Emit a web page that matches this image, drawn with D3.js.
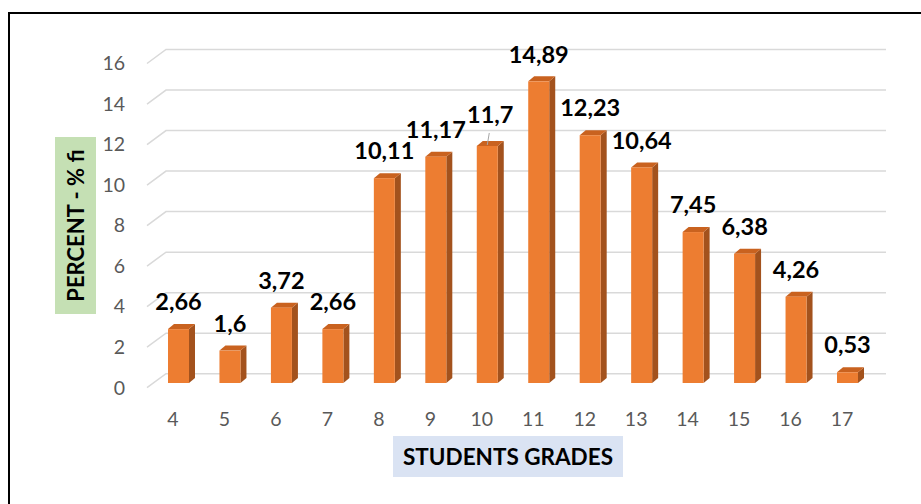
<!DOCTYPE html>
<html>
<head>
<meta charset="utf-8">
<script src="https://cdn.jsdelivr.net/npm/d3@7"></script>
<style>
  html, body { margin: 0; padding: 0; background: #fff; }
  svg { display: block; }
</style>
</head>
<body>
<svg id="chart" width="921" height="504"></svg>
<script>
// ---- data ----
const categories = ["4","5","6","7","8","9","10","11","12","13","14","15","16","17"];
const percentValues = [2.66, 1.6, 3.72, 2.66, 10.11, 11.17, 11.7, 14.89, 12.23, 10.64, 7.45, 6.38, 4.26, 0.53];
const valueLabels = ["2,66","1,6","3,72","2,66","10,11","11,17","11,7","14,89","12,23","10,64","7,45","6,38","4,26","0,53"];
const yTicks = [0, 2, 4, 6, 8, 10, 12, 14, 16];
const yTitle = "PERCENT - % fi";
const xTitle = "STUDENTS GRADES";

const svg = d3.select("#chart");
const FONT = "Lato, 'Open Sans', sans-serif";

// outer border (extends past right/bottom edges)
svg.append("rect").attr("x", 9).attr("y", 13).attr("width", 1000).attr("height", 600)
  .attr("fill", "none").attr("stroke", "#000").attr("stroke-width", 2);

// scales
const x = d3.scalePoint().domain(categories).range([173, 842]);
const yFront = d3.scaleLinear().domain([0, 16]).range([387.7, 63.5]); // front edge of floor/grid
const depthX = 19, depthY = 14;       // grid wall depth offset
const yBar = d3.scaleLinear().domain([0, 16]).range([383, 383 - 16 * 20.26]);
const barW = 21, barDX = 6, barDY = 5, barShift = -5;
const gridRight = 886;

// gridlines (3D: diagonal floor edge + back wall line)
const grid = svg.append("g");
yTicks.forEach(t => {
  const yf = yFront(t), yb = yf - depthY;
  grid.append("path")
    .attr("d", `M147,${yf} L${147 + depthX},${yb} L${gridRight},${yb}`)
    .attr("fill", "none").attr("stroke", "#d9d9d9").attr("stroke-width", 1.5);
});

// y tick labels
svg.append("g").selectAll("text").data(yTicks).join("text")
  .attr("x", 125).attr("y", d => yFront(d)).attr("dy", "0.35em")
  .attr("text-anchor", "end").attr("font-family", FONT).attr("font-size", 19.5)
  .attr("fill", "#595959").text(d => d);

// x tick labels
svg.append("g").selectAll("text").data(categories).join("text")
  .attr("x", d => x(d)).attr("y", 419).attr("dy", "0.35em")
  .attr("text-anchor", "middle").attr("font-family", FONT).attr("font-size", 19.5)
  .attr("fill", "#595959").text(d => d);

// bars
const data = categories.map((c, i) => ({ c, v: percentValues[i], label: valueLabels[i] }));
const bars = svg.append("g").selectAll("g").data(data).join("g");
bars.each(function (d) {
  const g = d3.select(this);
  const x0 = x(d.c) + barShift, x1 = x0 + barW;
  const yT = yBar(d.v), yB = yBar(0);
  // side
  g.append("path")
    .attr("d", `M${x1},${yT} L${x1 + barDX},${yT - barDY} L${x1 + barDX},${yB - barDY} L${x1},${yB} Z`)
    .attr("fill", "#a3521d");
  // top
  g.append("path")
    .attr("d", `M${x0},${yT} L${x0 + barDX},${yT - barDY} L${x1 + barDX},${yT - barDY} L${x1},${yT} Z`)
    .attr("fill", "#c9621f");
  // front
  g.append("rect").attr("x", x0).attr("y", yT).attr("width", barW).attr("height", yB - yT)
    .attr("fill", "#ed7d31");
});

// data labels
const labelOffsets = { "11,7": { dx: 3, dy: -4 } };
svg.append("g").selectAll("text").data(data).join("text")
  .attr("x", d => x(d.c) + barShift + barW / 2 + (labelOffsets[d.label] ? labelOffsets[d.label].dx : 0))
  .attr("y", d => yBar(d.v) - 27 + (labelOffsets[d.label] ? labelOffsets[d.label].dy : 0))
  .attr("dy", "0.35em").attr("text-anchor", "middle")
  .attr("font-family", FONT).attr("font-weight", "bold").attr("font-size", 23.5)
  .attr("fill", "#000").text(d => d.label);

// leader line for "11,7"
const d10 = data.find(d => d.label === "11,7");
const lx = x(d10.c) + barShift + barW / 2;
svg.append("line")
  .attr("x1", lx + 2).attr("y1", yBar(d10.v) - 13)
  .attr("x2", lx).attr("y2", yBar(d10.v) - 1)
  .attr("stroke", "#a6a6a6").attr("stroke-width", 1);

// y axis title
svg.append("rect").attr("x", 55).attr("y", 137).attr("width", 41).attr("height", 177).attr("fill", "#c5e0b4");
svg.append("text")
  .attr("transform", "translate(76,225.5) rotate(-90)")
  .attr("text-anchor", "middle").attr("dy", "0.35em")
  .attr("font-family", FONT).attr("font-weight", "bold").attr("font-size", 22)
  .attr("fill", "#000").text(yTitle);

// x axis title
svg.append("rect").attr("x", 393).attr("y", 436).attr("width", 230).attr("height", 41).attr("fill", "#dae3f3");
svg.append("text")
  .attr("x", 508).attr("y", 457).attr("dy", "0.35em").attr("text-anchor", "middle")
  .attr("font-family", FONT).attr("font-weight", "bold").attr("font-size", 22.5)
  .attr("fill", "#000").text(xTitle);
</script>
</body>
</html>
